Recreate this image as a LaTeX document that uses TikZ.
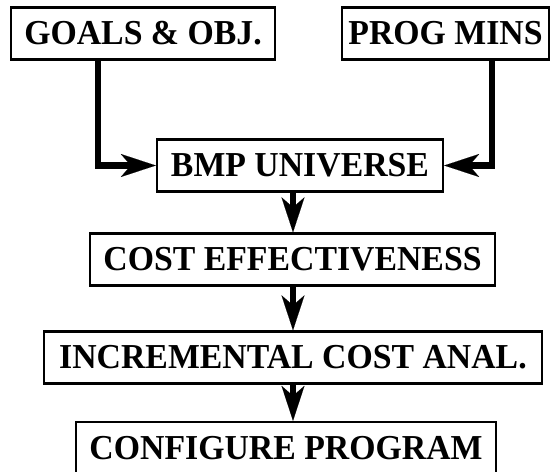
\documentclass[tikz,border=0pt]{standalone}
\usepackage{fontspec}
\setmainfont[FakeStretch=0.965]{Liberation Serif}
\usetikzlibrary{arrows.meta}
\tikzset{
  box/.style={draw, line width=2.4pt, inner sep=0pt, minimum height=52pt,
    font=\fontsize{35}{40}\selectfont\bfseries},
  arr/.style={line width=6.7pt,
    -{Stealth[length=35pt,width=23pt,inset=10pt,line width=0.1pt]}}
}
\begin{document}
\begin{tikzpicture}[x=1pt,y=1pt]
\useasboundingbox (0,0) rectangle (550,-472);
\node[box, minimum width=264pt] (goals) at (143,-33.5) {GOALS \& OBJ.};
\node[box, minimum width=207pt] (prog) at (445.5,-33.5) {PROG MINS};
\node[box, minimum width=286pt] (bmp) at (300,-165.5) {BMP UNIVERSE};
\node[box, minimum width=405pt] (cost) at (292.5,-259.5) {COST EFFECTIVENESS};
\node[box, minimum width=498pt] (inc) at (293,-357.5) {INCREMENTAL COST ANAL.};
\node[box, minimum width=420pt] (conf) at (286,-448) {CONFIGURE PROGRAM};
\coordinate (gx) at (98,0);
\coordinate (px) at (492,0);
\coordinate (ax) at (293,0);
\draw[arr] (goals.south -| gx) |- (bmp.west);
\draw[arr] (prog.south -| px) |- (bmp.east);
\draw[arr] (bmp.south -| ax) -- (cost.north -| ax);
\draw[arr] (cost.south -| ax) -- (inc.north -| ax);
\draw[arr] (inc.south -| ax) -- (conf.north -| ax);
\end{tikzpicture}
\end{document}
